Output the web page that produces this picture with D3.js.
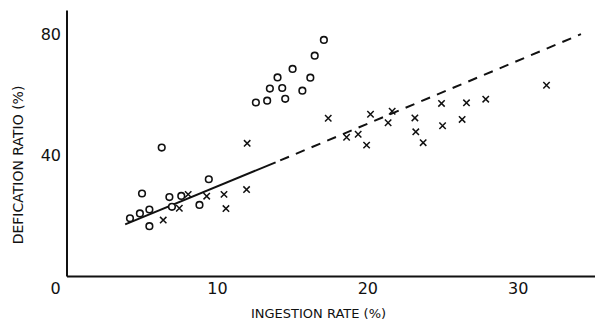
<!DOCTYPE html>
<html>
<head>
<meta charset="utf-8">
<script src="https://cdn.jsdelivr.net/npm/d3@7"></script>
<style>
  body { margin: 0; background: #fff; }
  svg { display: block; font-family: "DejaVu Sans", sans-serif; }
</style>
</head>
<body>
<div id="chart"></div>
<script>
// circles (o)
var circleX = [4.22, 4.88, 5.51, 5.02, 5.51, 6.84, 7.01, 7.63, 8.84, 9.46, 6.33,
               12.59, 13.34, 14.54, 13.52, 14.34, 14.03, 15.03, 15.68, 16.21, 16.50, 17.11];
var circleY = [19.1, 20.7, 22.0, 27.3, 16.5, 26.1, 22.9, 26.5, 23.5, 32.0, 42.5,
               57.4, 58.0, 58.6, 62.0, 62.2, 65.7, 68.5, 61.3, 65.6, 72.9, 78.1];

// crosses (x)
var crossX = [6.43, 7.50, 8.09, 9.32, 10.47, 10.60, 11.97, 12.01, 17.40, 18.62, 19.39, 19.95,
              20.21, 21.38, 21.65, 23.16, 23.22, 23.71, 24.93, 25.00, 26.30, 26.59, 27.87, 31.91];
var crossY = [18.5, 22.4, 27.0, 26.4, 27.0, 22.3, 28.6, 43.9, 52.2, 45.9, 46.9, 43.3,
              53.5, 50.7, 54.5, 52.3, 47.7, 44.1, 57.1, 49.7, 51.8, 57.3, 58.5, 63.1];

// fitted line: solid part then dashed part
var solidX = [3.9, 13.9];
var solidY = [17.1, 37.6];
var dashX = [13.9, 34.2];
var dashY = [37.6, 80.0];

var xTicks = [10, 20, 30];
var yTicks = [40, 80];

var width = 595, height = 321;

var svg = d3.select("#chart").append("svg")
    .attr("width", width)
    .attr("height", height);

var x = d3.scaleLinear().domain([0, 35.2]).range([66.5, 596]);
var y = d3.scaleLinear().domain([0, 88]).range([276, 10]);

// axes
var xAxis = svg.append("g")
    .attr("transform", "translate(0," + y(0) + ")")
    .call(d3.axisBottom(x).tickValues(xTicks).tickSize(0).tickSizeOuter(0).tickPadding(7));

var yAxis = svg.append("g")
    .attr("transform", "translate(" + x(0) + ",0)")
    .call(d3.axisLeft(y).tickValues(yTicks).tickSize(0).tickSizeOuter(0).tickPadding(5.5));

svg.selectAll(".domain").attr("stroke", "#111").attr("stroke-width", 2);
svg.selectAll(".tick text")
    .attr("font-family", "DejaVu Sans")
    .attr("font-size", 16)
    .attr("fill", "#111");

// shared origin label
svg.append("text")
    .attr("x", x(0) - 11)
    .attr("y", y(0) + 18)
    .attr("text-anchor", "middle")
    .attr("font-size", 16)
    .attr("fill", "#111")
    .text("0");

// axis titles
svg.append("text")
    .attr("x", 318.5)
    .attr("y", 318)
    .attr("text-anchor", "middle")
    .attr("font-size", 13)
    .attr("fill", "#111")
    .text("INGESTION RATE (%)");

svg.append("text")
    .attr("transform", "translate(23,165) rotate(-90)")
    .attr("text-anchor", "middle")
    .attr("font-size", 14)
    .attr("fill", "#111")
    .text("DEFICATION RATIO (%)");

// fitted line
var line = d3.line()
    .x(function(d){ return x(d[0]); })
    .y(function(d){ return y(d[1]); });

svg.append("path")
    .datum(d3.zip(solidX, solidY))
    .attr("d", line)
    .attr("fill", "none")
    .attr("stroke", "#111")
    .attr("stroke-width", 2);

svg.append("path")
    .datum(d3.zip(dashX, dashY))
    .attr("d", line)
    .attr("fill", "none")
    .attr("stroke", "#111")
    .attr("stroke-width", 2)
    .attr("stroke-dasharray", "9.5,7.5")
    .attr("stroke-dashoffset", -5);

// circles
svg.append("g").selectAll("circle")
    .data(d3.zip(circleX, circleY))
    .enter().append("circle")
    .attr("cx", function(d){ return x(d[0]); })
    .attr("cy", function(d){ return y(d[1]); })
    .attr("r", 3.3)
    .attr("fill", "#fff")
    .attr("stroke", "#111")
    .attr("stroke-width", 1.6);

// crosses
var s = 3.2;
svg.append("g").selectAll("path")
    .data(d3.zip(crossX, crossY))
    .enter().append("path")
    .attr("d", function(d){
        var cx = x(d[0]), cy = y(d[1]);
        return "M" + (cx - s) + "," + (cy - s) + "L" + (cx + s) + "," + (cy + s) +
               "M" + (cx - s) + "," + (cy + s) + "L" + (cx + s) + "," + (cy - s);
    })
    .attr("stroke", "#111")
    .attr("stroke-width", 1.5)
    .attr("fill", "none");
</script>
</body>
</html>
